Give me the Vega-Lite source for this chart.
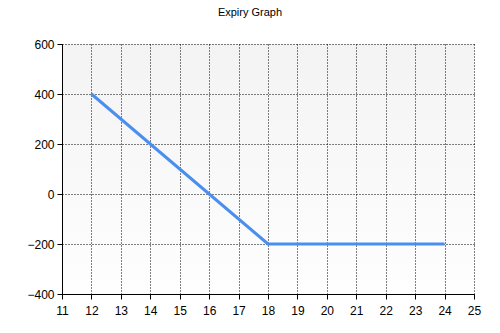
{
  "$schema": "https://vega.github.io/schema/vega-lite/v6.json",
  "width": 412,
  "height": 250,
  "autosize": {"type": "none"},
  "padding": {"left": 62, "top": 44, "right": 26, "bottom": 39},
  "background": "white",
  "title": {"text": "Expiry Graph", "font": "Liberation Sans", "fontSize": 11, "fontWeight": "normal", "color": "#000000", "anchor": "middle", "offset": 20, "dx": -18},
  "config": {
    "view": {"stroke": null, "fill": {"gradient": "linear", "x1": 0, "y1": 0, "x2": 0, "y2": 1, "stops": [{"offset": 0, "color": "#f3f3f3"}, {"offset": 1, "color": "#fefefe"}]}},
    "axis": {
      "labelFont": "Liberation Sans", "labelFontSize": 12, "labelColor": "#000000",
      "domainColor": "#000000", "domainWidth": 1, "tickColor": "#000000", "tickSize": 5,
      "gridColor": "#000000", "gridDash": [1, 2], "gridOpacity": 1, "gridWidth": 1,
      "title": null, "labelPadding": 3
    }
  },
  "data": {"values": [
    {"x": 12, "y": 400},
    {"x": 18, "y": -200},
    {"x": 24, "y": -200}
  ]},
  "mark": {"type": "line", "color": "#4a8ff0", "strokeWidth": 3},
  "encoding": {
    "x": {"field": "x", "type": "quantitative", "scale": {"domain": [11, 25], "nice": false, "zero": false},
      "axis": {"values": [11,12,13,14,15,16,17,18,19,20,21,22,23,24,25], "labelFlush": false, "labelPadding": 6}},
    "y": {"field": "y", "type": "quantitative", "scale": {"domain": [-400, 600], "nice": false},
      "axis": {"values": [-400,-200,0,200,400,600], "labelFlush": false}}
  }
}
